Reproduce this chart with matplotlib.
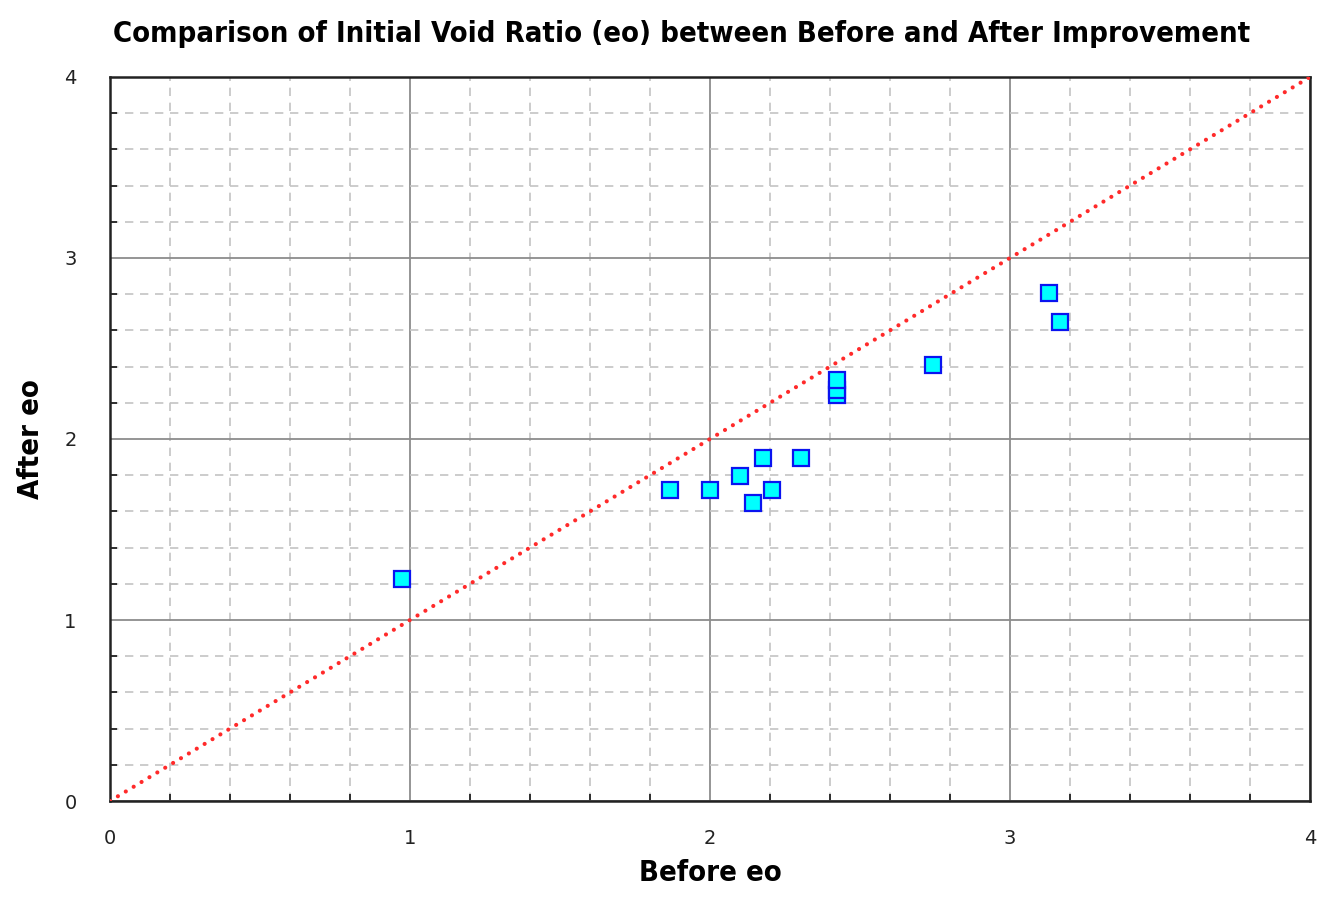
import numpy as np
from matplotlib import pyplot as plt
from matplotlib.ticker import MultipleLocator

# Initial void ratio before / after improvement
before_eo = [0.974, 1.867, 2.0, 2.10, 2.175, 2.205, 2.144, 2.303, 2.422, 2.422, 2.422, 2.742, 3.131, 3.167]
after_eo = [1.225, 1.718, 1.72, 1.796, 1.893, 1.72, 1.645, 1.893, 2.243, 2.271, 2.326, 2.409, 2.805, 2.648]
line_1to1 = [0, 4]

narrow = ['DejaVu Sans']

fig = plt.figure(figsize=(13.19, 8.98), dpi=100)
ax = fig.add_axes([0.0834, 0.108, 0.9098, 0.8063])

ax.plot(line_1to1, line_1to1, color='#ff2a2a', linestyle=(0, (0.01, 2.2)), linewidth=3.0,
        dash_capstyle='round', zorder=3)
ax.plot(before_eo, after_eo, linestyle='none', marker='s', markersize=11.5,
        markerfacecolor='#00ffff', markeredgecolor='#0a14f0', markeredgewidth=1.6, zorder=4)

ax.set_xlim(0, 4)
ax.set_ylim(0, 4)
ax.xaxis.set_major_locator(MultipleLocator(1))
ax.yaxis.set_major_locator(MultipleLocator(1))
ax.xaxis.set_minor_locator(MultipleLocator(0.2))
ax.yaxis.set_minor_locator(MultipleLocator(0.2))

ax.grid(which='major', color='#8c8c8c', linewidth=1.3, linestyle='-')
ax.grid(which='minor', color='#c4c4c4', linewidth=1.2, linestyle=(0, (5, 4)))
ax.set_axisbelow(True)

ax.tick_params(which='major', direction='in', length=0, labelsize=14, pad=24, colors='#222222')
ax.tick_params(which='minor', direction='in', length=5, width=1.3, color='#222222')
ax.tick_params(axis='x', which='major', pad=20)
for s in ax.spines.values():
    s.set_color('#222222')
    s.set_linewidth(1.8)

ax.set_xlabel('Before eo', family=narrow, fontstretch='condensed', fontsize=21,
              fontweight='bold', labelpad=8)
ax.set_ylabel('After eo', family=narrow, fontstretch='condensed', fontsize=21,
              fontweight='bold', labelpad=14)
fig.suptitle('Comparison of Initial Void Ratio (eo) between Before and After Improvement',
             family=narrow, fontstretch='condensed', fontsize=21, fontweight='bold',
             x=0.517, y=0.978)

plt.savefig('out.png', dpi=100)
plt.close()
